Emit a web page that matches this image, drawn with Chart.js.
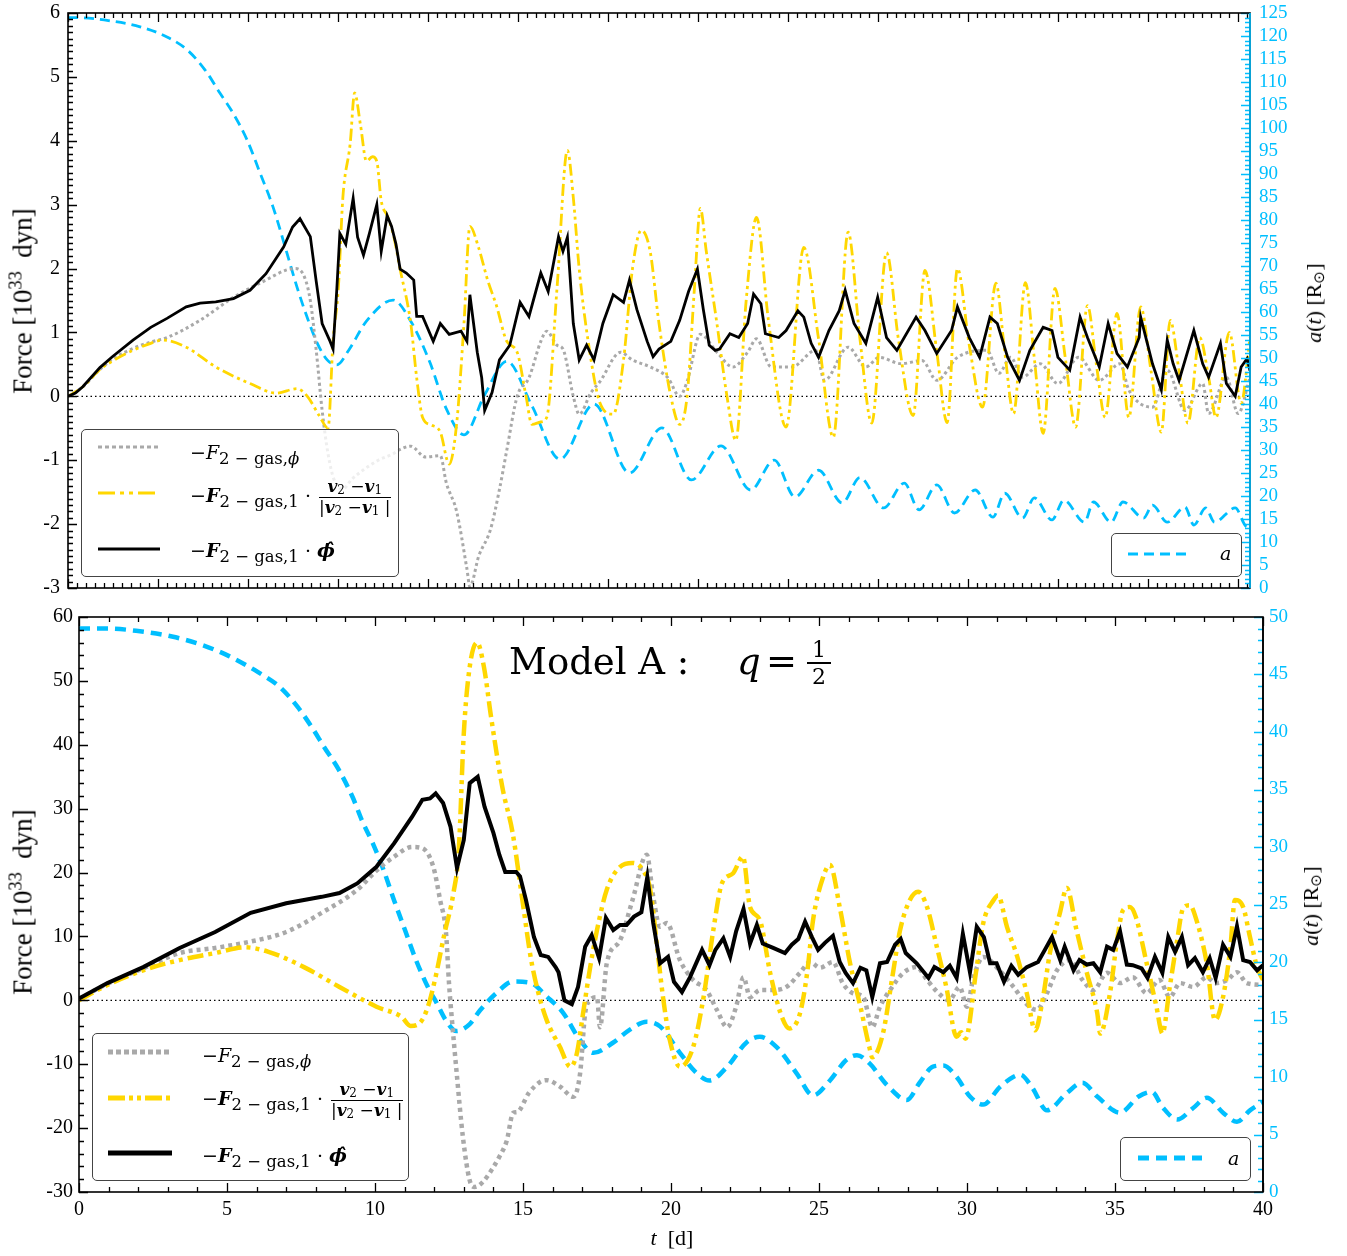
<!DOCTYPE html>
<html>
<head>
<meta charset="utf-8">
<script src="https://cdn.jsdelivr.net/npm/chart.js@4.4.1/dist/chart.umd.min.js"></script>
<style>
  body { margin: 0; background: #fff; }
  #page { position: relative; width: 1347px; height: 1256px; overflow: hidden; background: #fff; }
  canvas { position: absolute; left: 0; }
  #topChart { top: 0; }
  #botChart { top: 600px; }
  .txt { position: absolute; white-space: nowrap; color: #000; line-height: 1; }
  .ytitle { font-family: 'Liberation Serif', serif; transform: translate(-50%, -50%) rotate(-90deg); }
  .ytitle sup { font-size: 0.68em; vertical-align: 0.55em; line-height: 0; }
  .ytitle sub { font-size: 0.7em; vertical-align: -0.2em; line-height: 0; }
  .legend { position: absolute; border: 1.4px solid #444; border-radius: 5px; background: rgba(255,255,255,0.8); box-sizing: border-box; z-index: 2; }
  .sample { position: absolute; z-index: 3; }
  .math { position: absolute; z-index: 3; white-space: nowrap; font-family: 'DejaVu Serif', serif; font-size: 19px; line-height: 24px; transform: translateY(-50%); }
  .math sub { font-size: 16.5px; vertical-align: -5px; line-height: 0; }
  .frac { display: inline-block; vertical-align: middle; text-align: center; font-size: 17px; line-height: 19px; margin-left: 8px; }
  .frac span { display: block; }
  .frac .num { border-bottom: 1px solid #000; padding: 0 2px 1px; }
  .frac sub { font-size: 12px; vertical-align: -2px; }
</style>
</head>
<body>
<div id="page">
  <canvas id="topChart" width="1347" height="600"></canvas>
  <canvas id="botChart" width="1347" height="656"></canvas>

  <!-- axis titles -->
  <div class="txt ytitle" style="left:23px; top:301px; font-size:27px;">Force [10<sup>33</sup>&nbsp; dyn]</div>
  <div class="txt ytitle" style="left:23px; top:902px; font-size:27px;">Force [10<sup>33</sup>&nbsp; dyn]</div>
  <div class="txt ytitle" style="left:1314px; top:303px; font-size:22px;"><i>a</i>(<i>t</i>) [R<sub>&#8857;</sub>]</div>
  <div class="txt ytitle" style="left:1311px; top:906px; font-size:22px;"><i>a</i>(<i>t</i>) [R<sub>&#8857;</sub>]</div>
  <div class="txt" style="left:672px; top:1238px; transform:translate(-50%,-50%); font-family:'Liberation Serif',serif; font-size:22px;"><i>t</i>&nbsp; [d]</div>

  <!-- title -->
  <div class="txt" style="left:509px; top:643px; font-family:'DejaVu Serif',serif; font-size:37px;">Model A :</div>
  <div class="txt" style="left:737px; top:643px; font-family:'DejaVu Serif',serif; font-size:37px;"><i>q</i></div>
  <div class="txt" style="left:766px; top:643px; font-family:'DejaVu Serif',serif; font-size:37px;">=</div>
  <div class="txt" style="left:807px; top:638px; width:24px; text-align:center; font-family:'DejaVu Serif',serif; font-size:22px; line-height:26px;">
    <div style="border-bottom:2px solid #000; line-height:24px;">1</div><div>2</div>
  </div>

  <!-- top legends -->
  <div class="legend" style="left:81px; top:429px; width:318px; height:148px;"></div>
  <svg class="sample" style="left:98px; top:442px;" width="62" height="10"><line x1="0" y1="5" x2="62" y2="5" stroke="#A9A9A9" stroke-width="3" stroke-dasharray="4 3"/></svg>
  <svg class="sample" style="left:98px; top:488px;" width="62" height="10"><line x1="0" y1="5" x2="62" y2="5" stroke="#FFD700" stroke-width="3" stroke-dasharray="17 5 4 5 4 5"/></svg>
  <svg class="sample" style="left:98px; top:544px;" width="62" height="10"><line x1="0" y1="5" x2="62" y2="5" stroke="#000" stroke-width="3"/></svg>
  <div class="math" style="left:190px; top:452px;">&minus;<i>F</i><sub>2 &minus; gas,<i>&#981;</i></sub></div>
  <div class="math" style="left:190px; top:497px;">&minus;<b><i>F</i></b><sub>2 &minus; gas,1</sub> &middot;<span class="frac"><span class="num"><b><i>v</i></b><sub>2</sub> &minus;<b><i>v</i></b><sub>1</sub></span><span>|<b><i>v</i></b><sub>2</sub> &minus;<b><i>v</i></b><sub>1</sub> |</span></span></div>
  <div class="math" style="left:190px; top:550px;">&minus;<b><i>F</i></b><sub>2 &minus; gas,1</sub> &middot; <b><i>&#981;&#770;</i></b></div>

  <div class="legend" style="left:1111px; top:533px; width:131px; height:44px;"></div>
  <svg class="sample" style="left:1128px; top:549px;" width="62" height="10"><line x1="0" y1="5" x2="62" y2="5" stroke="#00BFFF" stroke-width="3" stroke-dasharray="10 6"/></svg>
  <div class="math" style="left:1220px; top:553px;"><i>a</i></div>

  <!-- bottom legends -->
  <div class="legend" style="left:92px; top:1033px; width:317px; height:148px;"></div>
  <svg class="sample" style="left:108px; top:1046px;" width="64" height="12"><line x1="0" y1="6" x2="64" y2="6" stroke="#A9A9A9" stroke-width="5" stroke-dasharray="5 3"/></svg>
  <svg class="sample" style="left:108px; top:1092px;" width="64" height="12"><line x1="0" y1="6" x2="64" y2="6" stroke="#FFD700" stroke-width="5" stroke-dasharray="17 4 4 4 4 4"/></svg>
  <svg class="sample" style="left:108px; top:1147px;" width="64" height="12"><line x1="0" y1="6" x2="64" y2="6" stroke="#000" stroke-width="5"/></svg>
  <div class="math" style="left:202px; top:1055px;">&minus;<i>F</i><sub>2 &minus; gas,<i>&#981;</i></sub></div>
  <div class="math" style="left:202px; top:1100px;">&minus;<b><i>F</i></b><sub>2 &minus; gas,1</sub> &middot;<span class="frac"><span class="num"><b><i>v</i></b><sub>2</sub> &minus;<b><i>v</i></b><sub>1</sub></span><span>|<b><i>v</i></b><sub>2</sub> &minus;<b><i>v</i></b><sub>1</sub> |</span></span></div>
  <div class="math" style="left:202px; top:1155px;">&minus;<b><i>F</i></b><sub>2 &minus; gas,1</sub> &middot; <b><i>&#981;&#770;</i></b></div>

  <div class="legend" style="left:1120px; top:1137px; width:131px; height:44px;"></div>
  <svg class="sample" style="left:1138px; top:1152px;" width="64" height="12"><line x1="0" y1="6" x2="64" y2="6" stroke="#00BFFF" stroke-width="5" stroke-dasharray="11 7"/></svg>
  <div class="math" style="left:1228px; top:1158px;"><i>a</i></div>
</div>

<script>
// values, as [t in days, value] pairs
// top panel
var topPhi = [[0,0],[0.5,0.15],[1.08,0.42],[1.5,0.58],[2.2,0.75],[2.8,0.85],[3.35,0.92],[4.47,1.19],[5.6,1.55],[6.7,1.82],[7.4,1.98],[7.7,2.0],[8.0,1.87],[8.2,1.5],[8.4,0.72],[8.6,-0.22],[8.8,-0.9],[9.0,-1.3],[9.3,-1.45],[9.6,-1.3],[10.0,-1.15],[10.5,-1.0],[11.0,-0.9],[11.2,-0.84],[11.6,-0.78],[12.1,-0.95],[12.6,-0.93],[12.8,-1.35],[13.15,-1.8],[13.5,-2.7],[13.6,-2.98],[13.9,-2.5],[14.3,-2.08],[14.6,-1.46],[14.85,-0.84],[15.2,0.0],[15.6,0.29],[16.0,0.86],[16.2,1.02],[16.55,0.8],[16.75,0.74],[17.1,0.0],[17.3,-0.28],[17.7,0.06],[18.0,0.23],[18.7,0.69],[19.1,0.57],[19.7,0.46],[20.3,0.29],[20.7,0.0],[20.95,0.23],[21.4,0.97],[21.96,0.69],[22.5,0.46],[23.0,0.69],[23.3,0.9],[23.8,0.46],[24.5,0.46],[25.3,0.72],[25.6,0.25],[26.4,0.77],[27.0,0.46],[27.45,0.61],[28.2,0.51],[28.9,0.56],[29.4,0.25],[30.1,0.61],[31.1,0.72],[31.5,0.36],[31.9,0.61],[32.3,0.3],[32.9,0.51],[33.5,0.2],[34.2,0.61],[34.9,0.25],[35.6,0.51],[35.9,0.1],[36.7,-0.17],[37.2,0.41],[37.8,-0.22],[38.4,0.2],[38.6,-0.27],[39.2,0.3],[39.6,-0.27],[40,0.3]];
var topVel = [[0,0],[0.5,0.15],[1.08,0.42],[1.5,0.55],[2.2,0.72],[2.8,0.83],[3.2,0.88],[4,0.77],[5,0.46],[6.16,0.2],[7.05,0.05],[7.75,0.12],[8.1,0],[8.5,-0.3],[8.8,-0.5],[8.97,0.86],[9.15,1.7],[9.3,3.1],[9.55,3.96],[9.7,4.75],[9.9,4.24],[10.1,3.68],[10.3,3.75],[10.45,3.68],[10.6,3.06],[10.8,2.83],[11,2.55],[11.24,1.99],[11.6,1.14],[11.8,0.29],[12,-0.33],[12.3,-0.45],[12.6,-0.56],[12.9,-1.06],[13.15,-0.44],[13.4,1.14],[13.6,2.66],[13.9,2.32],[14.2,1.82],[14.5,1.42],[14.85,0.86],[15.2,0.69],[15.5,0],[15.7,-0.44],[16.0,-0.4],[16.2,-0.33],[16.55,1.7],[16.9,3.85],[17.1,3.11],[17.3,1.99],[17.7,0.57],[18,-0.1],[18.45,-0.28],[18.8,0.57],[19.1,1.99],[19.4,2.6],[19.7,2.27],[20,1.14],[20.4,0],[20.7,-0.44],[20.95,0],[21.2,1.7],[21.4,2.94],[21.6,2.27],[21.96,1.14],[22.3,0],[22.6,-0.69],[22.95,1.5],[23.3,2.8],[23.7,1.2],[24.3,-0.48],[24.9,2.33],[25.4,0.9],[25.9,-0.64],[26.4,2.57],[26.8,0.9],[27.2,-0.42],[27.7,2.25],[28.1,0.9],[28.6,-0.3],[29.0,1.97],[29.4,0.7],[29.75,-0.41],[30.1,2.0],[30.5,0.8],[30.95,-0.17],[31.4,1.77],[31.7,0.7],[32,-0.27],[32.4,1.78],[32.7,0.6],[33,-0.58],[33.4,1.69],[33.75,0.6],[34.1,-0.48],[34.5,1.42],[34.8,0.5],[35.1,-0.33],[35.5,1.3],[35.9,-0.33],[36.3,1.4],[36.65,0.4],[37,-0.56],[37.3,1.19],[37.6,0.4],[37.9,-0.42],[38.3,0.92],[38.6,0.3],[38.85,-0.33],[39.3,1.0],[39.7,-0.11],[40,0.92]];
var topHat = [[0,0],[0.25,0.05],[0.5,0.15],[1.08,0.45],[1.5,0.62],[2.2,0.88],[2.8,1.08],[3.35,1.22],[4,1.4],[4.47,1.46],[5,1.48],[5.6,1.53],[6.16,1.66],[6.7,1.92],[7.3,2.34],[7.6,2.65],[7.85,2.78],[8.2,2.5],[8.4,1.8],[8.6,1.14],[8.87,0.86],[8.97,0.74],[9.1,1.7],[9.2,2.55],[9.4,2.38],[9.65,3.1],[9.8,2.49],[10,2.21],[10.2,2.55],[10.45,3.0],[10.6,2.27],[10.8,2.83],[10.95,2.66],[11.1,2.38],[11.24,1.99],[11.45,1.93],[11.7,1.82],[11.8,1.25],[12,1.25],[12.36,0.86],[12.6,1.14],[12.9,0.97],[13.3,1.02],[13.5,0.86],[13.6,1.59],[13.85,0.69],[14,0.29],[14.1,-0.22],[14.35,0.06],[14.6,0.57],[14.95,0.8],[15.3,1.47],[15.6,1.25],[16,1.93],[16.25,1.64],[16.6,2.5],[16.75,2.27],[16.9,2.49],[17.1,1.14],[17.3,0.57],[17.55,0.8],[17.8,0.57],[18.1,1.14],[18.45,1.59],[18.8,1.47],[19,1.82],[19.25,1.36],[19.6,0.86],[19.8,0.62],[20,0.74],[20.4,0.86],[20.7,1.19],[21,1.64],[21.3,1.99],[21.5,1.36],[21.7,0.8],[21.9,0.72],[22.05,0.74],[22.4,0.98],[22.7,0.92],[23,1.14],[23.2,1.6],[23.45,1.45],[23.6,0.98],[24.05,0.92],[24.3,1.03],[24.7,1.34],[24.9,1.24],[25.15,0.83],[25.4,0.61],[25.75,1.03],[26.1,1.34],[26.3,1.66],[26.6,1.14],[27,0.83],[27.4,1.55],[27.7,0.92],[28.05,0.72],[28.3,0.92],[28.7,1.24],[29,1.03],[29.4,0.67],[29.9,1.03],[30.1,1.4],[30.5,0.92],[30.85,0.61],[31.2,1.24],[31.45,1.14],[31.8,0.61],[32.2,0.25],[32.55,0.72],[33,1.08],[33.3,1.03],[33.5,0.61],[33.9,0.41],[34.25,1.24],[34.5,0.92],[34.9,0.46],[35.2,1.14],[35.5,0.67],[35.85,0.46],[36.25,0.92],[36.3,1.24],[36.7,0.51],[37,0.1],[37.2,0.88],[37.4,0.51],[37.6,0.25],[38.1,1.03],[38.4,0.51],[38.6,0.3],[39,0.83],[39.2,0.2],[39.5,0],[39.7,0.46],[39.9,0.59],[40,0.4]];
var topSep = [[0,124],[0.3,124],[1.42,123.3],[2.44,122],[3.35,119.8],[4.03,117],[4.64,112.6],[5.14,107.6],[5.58,103.3],[6.06,97.4],[6.5,90.2],[6.94,82.8],[7.41,72.8],[7.75,65.4],[8.09,58.9],[8.43,53.3],[8.77,49.6],[9.1,48.5],[9.5,51.7],[10.1,58],[11.0,62.6],[11.6,58],[12.25,49],[12.8,39],[13.4,33.3],[14.1,42],[14.85,49.3],[15.7,39.6],[16.65,28],[17.8,40],[19,25],[20.1,34.8],[21.1,23.5],[22.1,30.9],[23.1,21.3],[23.9,27.8],[24.6,19.8],[25.4,25.6],[26.2,18.5],[26.8,24],[27.6,17.4],[28.3,22.8],[28.8,17],[29.4,22.4],[30,16.3],[30.7,21.3],[31.3,15.4],[31.7,20.6],[32.3,15.2],[32.7,19.6],[33.3,14.8],[33.7,19.1],[34.4,14.3],[34.7,18.7],[35.3,14.3],[35.7,18.7],[36.4,15.2],[36.7,18],[37.2,14.3],[37.8,17.6],[38.1,13.7],[38.5,17.4],[38.8,14.3],[39.5,17.4],[39.9,13.3],[40,13.5]];

// bottom panel
var botPhi = [[0,0.2],[0.96,2.6],[2.17,5.0],[3.4,7.4],[4.6,8.2],[5.8,9.2],[7,10.7],[8.2,13.7],[9.4,17.3],[10.05,20.3],[10.65,22.5],[11.25,24],[11.6,23.8],[11.97,20.9],[12.2,15.7],[12.4,10.5],[12.5,2.7],[12.6,-3.1],[12.75,-10.9],[12.97,-21.4],[13.2,-28.2],[13.37,-29.2],[13.65,-28.4],[14,-26.1],[14.2,-24.5],[14.45,-22],[14.67,-17.6],[14.8,-17.5],[15.2,-14.5],[15.57,-12.8],[15.8,-12.5],[16.25,-13.5],[16.7,-15.1],[16.93,-11.4],[17.1,-2],[17.27,0],[17.5,0.5],[17.6,-4.2],[17.83,5.8],[18.28,9.4],[18.7,15.7],[19.18,22.8],[19.4,16.2],[19.63,11.5],[19.86,12.1],[20.3,6.3],[20.75,3.2],[21.2,1.6],[21.55,-1.5],[21.9,-4.2],[22.2,-1],[22.45,3.6],[22.67,0.5],[23,1.6],[23.45,1.6],[23.9,2.1],[24.36,4.3],[24.7,6],[25.03,5.1],[25.47,6],[25.8,2.7],[26.15,1.1],[26.5,0.5],[26.8,-4.2],[27.06,-1],[27.4,1.6],[27.85,4.3],[28.3,5.2],[28.65,3.2],[29,1.3],[29.4,0],[29.75,2.1],[30,-1],[30.2,3.2],[30.55,6.8],[31.1,4.7],[31.57,2.1],[32,-0.5],[32.35,-1.5],[32.7,1.1],[33.04,4.7],[33.48,6.3],[33.9,3.2],[34.27,1.6],[34.73,4.3],[35.17,2.7],[35.6,3.6],[36.07,1.1],[36.5,3.2],[36.85,0.5],[37.2,2.7],[37.64,2.1],[38.1,3.6],[38.4,2.7],[38.8,3.2],[39.12,4.4],[39.45,2.7],[40,2.4]];
var botVel = [[0,0],[0.96,2.4],[2.17,4.7],[3.4,6.3],[4.6,7.4],[5.6,8.3],[6.4,7.6],[7.6,5.2],[8.8,2.1],[10.05,-1],[10.9,-2.6],[11.2,-4],[11.5,-3.6],[11.75,-1.5],[12,2.7],[12.35,10.5],[12.65,16.8],[12.83,23.5],[13,41.8],[13.2,52.2],[13.45,56],[13.68,52.2],[13.92,44.4],[14.3,33.4],[14.65,26.2],[15,15],[15.25,7],[15.5,1.5],[15.8,-3.1],[16.25,-7.3],[16.6,-10.4],[16.82,-8.3],[17.03,-2],[17.27,5.2],[17.5,11],[17.83,17.3],[18.28,20.9],[18.7,21.5],[19.05,20.4],[19.3,17.3],[19.53,8.4],[19.73,0.5],[19.96,-6.2],[20.3,-10.4],[20.75,-7.3],[21.1,0.5],[21.43,11],[21.72,18.3],[22.1,19.9],[22.43,22.5],[22.67,14.6],[23,12.6],[23.35,4.3],[23.7,-2],[24,-4.4],[24.36,-2],[24.6,4.3],[24.8,12.6],[25.14,19.3],[25.37,21.2],[25.7,14.6],[26.05,5.8],[26.4,-1],[26.7,-7.3],[26.8,-8.9],[27.16,-5.2],[27.5,4.3],[27.74,11],[28.07,15.7],[28.35,17],[28.65,14.6],[28.98,8.4],[29.3,2.1],[29.65,-5.7],[29.8,-5],[29.95,-6],[30.3,4.3],[30.55,12.1],[30.9,15.7],[31.05,16.4],[31.35,11.5],[31.7,6.8],[32.02,1.1],[32.3,-4.7],[32.57,0.5],[32.8,7.4],[33.14,13.7],[33.37,17.6],[33.7,11],[34.05,4.3],[34.4,-2],[34.5,-5.2],[34.83,1.1],[35.07,9.4],[35.27,14.1],[35.5,14.6],[35.7,13.1],[36.07,5.8],[36.4,-1],[36.6,-5.2],[36.85,2.1],[37.1,9.4],[37.3,14.4],[37.53,14.9],[37.75,12.6],[38.1,5.8],[38.38,-3.1],[38.65,0.5],[38.9,8.4],[39.05,15.7],[39.33,14.6],[39.56,9.9],[39.8,5.2],[40,3.2]];
var botHat = [[0,0.3],[0.96,2.7],[2.17,5.2],[3.4,8.2],[4.6,10.7],[5.8,13.7],[7,15.2],[8.2,16.2],[8.8,16.8],[9.4,18.3],[10.05,20.9],[10.65,24.6],[11.25,28.7],[11.6,31.4],[11.86,31.6],[12.05,32.4],[12.3,30.9],[12.55,27.2],[12.77,20.7],[13,25.1],[13.2,34],[13.47,35],[13.7,30.3],[14,26.2],[14.2,22.8],[14.4,20.1],[14.77,20.1],[14.9,19.4],[15.1,15.7],[15.37,9.9],[15.6,7.1],[15.85,6.8],[16.1,5.2],[16.2,4.4],[16.4,0],[16.65,-0.6],[16.86,2.1],[17.1,8.4],[17.32,10.2],[17.57,6.6],[17.8,12.9],[18.05,11],[18.28,11.8],[18.5,11.8],[18.75,13.1],[19,13.8],[19.2,19.3],[19.4,12.1],[19.63,5.8],[19.9,6.8],[20.1,2.9],[20.37,1.3],[20.64,3.6],[21.05,7.9],[21.3,5.5],[21.5,7.9],[21.77,9.7],[22,6.8],[22.2,10.8],[22.45,14.3],[22.67,8.9],[22.9,11.8],[23.1,8.9],[23.45,8.2],[23.85,7.4],[24.08,8.7],[24.3,9.6],[24.53,12.3],[24.76,9.9],[24.97,7.9],[25.2,9],[25.47,10.1],[25.7,6],[25.9,4.3],[26.15,2.7],[26.4,5.1],[26.6,4.7],[26.8,0.5],[27.06,5.8],[27.3,6],[27.57,8.7],[27.76,9.6],[27.93,7.4],[28.3,5.8],[28.7,3.5],[28.9,5.2],[29.2,4.4],[29.42,5.4],[29.65,3.5],[29.86,10.4],[30.1,4.4],[30.33,11.5],[30.57,9.9],[30.78,5.8],[31,5.8],[31.25,2.9],[31.5,5.4],[31.73,4],[32.02,5.2],[32.4,6],[32.63,7.9],[32.87,9.9],[33.15,6.3],[33.3,8.4],[33.6,4.7],[33.8,6.3],[34.05,5.6],[34.27,5.8],[34.5,4.4],[34.73,8.4],[34.94,7.9],[35.17,10.8],[35.4,5.6],[35.6,5.5],[35.9,5],[36.1,3.5],[36.35,6.8],[36.6,4.3],[36.8,9.9],[37.03,7.6],[37.26,9.9],[37.47,5.5],[37.7,6.6],[37.97,4.4],[38.2,6.6],[38.4,3.5],[38.65,8.7],[38.9,6.8],[39.12,11.6],[39.33,6.3],[39.56,6],[39.8,4.7],[40,5.5]];
var botSep = [[0,49],[0.95,49],[1.93,48.8],[3.14,48.3],[4.12,47.6],[5.07,46.6],[6.05,45.2],[6.79,43.9],[7.38,42.2],[7.87,40.4],[8.28,38.7],[8.78,36.7],[9.25,34.3],[9.56,32.3],[9.93,30.3],[10.29,28],[10.64,25.4],[11.01,22.8],[11.38,20.2],[11.79,17.8],[12.09,16.4],[12.4,14.9],[12.75,14],[13.2,14.6],[13.55,15.8],[14.1,17.3],[14.67,18.3],[15.24,18.2],[15.8,17],[16.35,15.6],[16.93,13.2],[17.38,12.1],[18.05,13],[18.6,14.1],[19.18,14.8],[19.63,14.4],[20.3,12.1],[20.88,10.3],[21.3,9.7],[21.9,10.9],[22.55,13],[23,13.5],[23.57,12.6],[24.25,10.3],[24.8,8.4],[25.37,9.7],[25.93,11.5],[26.28,11.9],[26.7,11.2],[27.3,9.3],[27.97,8],[28.4,9.5],[28.85,10.9],[29.2,11],[29.65,10],[30.1,8.3],[30.55,7.6],[31.1,9.1],[31.56,10],[31.8,10.2],[32.2,9.1],[32.7,7.1],[33.37,8.6],[33.9,9.5],[34.4,8.3],[35.17,6.9],[35.8,8.3],[36.25,8.7],[36.6,7.4],[37.1,6.3],[37.64,7.3],[38.1,8.2],[38.65,6.9],[39.12,6.1],[39.56,7.1],[40,7.8]];

// axis ranges and tick spacing
var tRange = [0, 40];
var topForce = { min: -3, max: 6, major: 1, minor: 0.1 };
var topSepAxis = { min: 0, max: 125, major: 5, minor: 1 };
var topTime = { major: 3.046, minor: 0.3046 };
var botForce = { min: -30, max: 60, major: 10, minor: 2 };
var botSepAxis = { min: 0, max: 50, major: 5, minor: 1 };
var botTime = { major: 5, minor: 1 };

var GOLD = '#FFD700', SKY = '#00BFFF', GREY = '#A9A9A9';

function toXY(pairs) {
    return pairs.map(function (p) { return { x: p[0], y: p[1] }; });
}

function eachTick(min, max, spec, fn) {
    var ratio = Math.round(spec.major / spec.minor);
    var n = Math.floor((max - min) / spec.minor + 1e-6);
    for (var i = 0; i <= n; i++) {
        fn(min + i * spec.minor, i % ratio === 0);
    }
}

// frame + inward ticks like the original figure
function frameTicks(o) {
    return {
        id: 'frameTicks',
        afterDraw: function (chart) {
            var c = chart.ctx, ar = chart.chartArea;
            var sx = chart.scales.x, sy = chart.scales.y, sa = chart.scales.a;
            c.save();
            c.lineWidth = 1.3;
            c.strokeStyle = '#000';
            c.beginPath();
            eachTick(tRange[0], tRange[1], o.time, function (v, major) {
                var px = Math.round(sx.getPixelForValue(v)) + 0.5, len = major ? 9 : 5;
                c.moveTo(px, ar.bottom); c.lineTo(px, ar.bottom - len);
                c.moveTo(px, ar.top); c.lineTo(px, ar.top + len);
            });
            eachTick(o.force.min, o.force.max, o.force, function (v, major) {
                var py = Math.round(sy.getPixelForValue(v)) + 0.5, len = major ? 9 : 5;
                c.moveTo(ar.left, py); c.lineTo(ar.left + len, py);
            });
            c.stroke();
            c.strokeStyle = SKY;
            c.beginPath();
            eachTick(o.sep.min, o.sep.max, o.sep, function (v, major) {
                var py = Math.round(sa.getPixelForValue(v)) + 0.5, len = major ? 9 : 5;
                c.moveTo(ar.right, py); c.lineTo(ar.right - len, py);
            });
            c.stroke();
            c.lineWidth = 1.6;
            c.strokeStyle = '#000';
            c.strokeRect(ar.left, ar.top, ar.right - ar.left, ar.bottom - ar.top);
            c.strokeStyle = o.rightSpine;
            c.beginPath(); c.moveTo(ar.right, ar.top); c.lineTo(ar.right, ar.bottom); c.stroke();
            c.restore();
        }
    };
}

function makePanel(id, o) {
    var tickFont = { family: 'Liberation Serif', size: 20 };
    var noGrid = { display: false, drawTicks: false };
    var ctx = document.getElementById(id).getContext('2d');
    return new Chart(ctx, {
        type: 'line',
        data: {
            datasets: [
                { data: toXY(o.hat), yAxisID: 'y', borderColor: '#000', borderWidth: o.w.hat, tension: 0, order: 0 },
                { data: toXY(o.vel), yAxisID: 'y', borderColor: GOLD, borderWidth: o.w.vel, borderDash: o.dash.vel, cubicInterpolationMode: 'monotone', order: 1 },
                { data: toXY(o.phi), yAxisID: 'y', borderColor: GREY, borderWidth: o.w.phi, borderDash: o.dash.phi, cubicInterpolationMode: 'monotone', order: 2 },
                { data: toXY(o.sepData), yAxisID: 'a', borderColor: SKY, borderWidth: o.w.sep, borderDash: o.dash.sep, cubicInterpolationMode: 'monotone', order: 3 },
                { data: [{ x: tRange[0], y: 0 }, { x: tRange[1], y: 0 }], yAxisID: 'y', borderColor: '#000', borderWidth: 1.3, borderDash: [1.5, 3], order: 4 }
            ]
        },
        options: {
            responsive: false,
            animation: false,
            events: [],
            elements: { point: { radius: 0 }, line: { fill: false, borderCapStyle: 'butt' } },
            layout: { padding: { top: o.padTop, left: 0, right: 0, bottom: 0 } },
            plugins: { legend: { display: false }, tooltip: { enabled: false } },
            scales: {
                x: {
                    type: 'linear', min: tRange[0], max: tRange[1],
                    grid: noGrid, border: { display: false },
                    ticks: { display: o.showX, stepSize: 5, padding: 6, font: tickFont, color: '#000', maxRotation: 0, autoSkip: false },
                    afterFit: function (s) { s.height = o.xH; s.paddingLeft = 0; s.paddingRight = 0; }
                },
                y: {
                    position: 'left', min: o.force.min, max: o.force.max,
                    grid: noGrid, border: { display: false },
                    ticks: { stepSize: o.force.major, padding: o.leftPad, font: tickFont, color: '#000', autoSkip: false },
                    afterFit: function (s) { s.width = o.leftW; s.paddingTop = 0; s.paddingBottom = 0; }
                },
                a: {
                    position: 'right', min: o.sep.min, max: o.sep.max,
                    grid: noGrid, border: { display: false },
                    ticks: { stepSize: o.sep.major, padding: o.rightPad, font: { family: 'Liberation Serif', size: 19 }, color: SKY, autoSkip: false },
                    afterFit: function (s) { s.width = o.rightW; s.paddingTop = 0; s.paddingBottom = 0; }
                }
            }
        },
        plugins: [frameTicks(o)]
    });
}

makePanel('topChart', {
    phi: topPhi, vel: topVel, hat: topHat, sepData: topSep,
    force: topForce, sep: topSepAxis, time: topTime,
    w: { hat: 2.8, vel: 2.8, phi: 3, sep: 2.8 },
    dash: { vel: [12, 4, 3, 4, 3, 4], phi: [3, 3], sep: [10, 6] },
    padTop: 13, xH: 12, leftW: 68, rightW: 97, leftPad: 8, rightPad: 9,
    showX: false, rightSpine: SKY
});

makePanel('botChart', {
    phi: botPhi, vel: botVel, hat: botHat, sepData: botSep,
    force: botForce, sep: botSepAxis, time: botTime,
    w: { hat: 4, vel: 4.5, phi: 4.5, sep: 4.5 },
    dash: { vel: [16, 5, 4, 5, 4, 5], phi: [4, 4], sep: [11, 7] },
    padTop: 17, xH: 64, leftW: 79, rightW: 84, leftPad: 6, rightPad: 6,
    showX: true, rightSpine: '#000'
});
</script>
</body>
</html>
